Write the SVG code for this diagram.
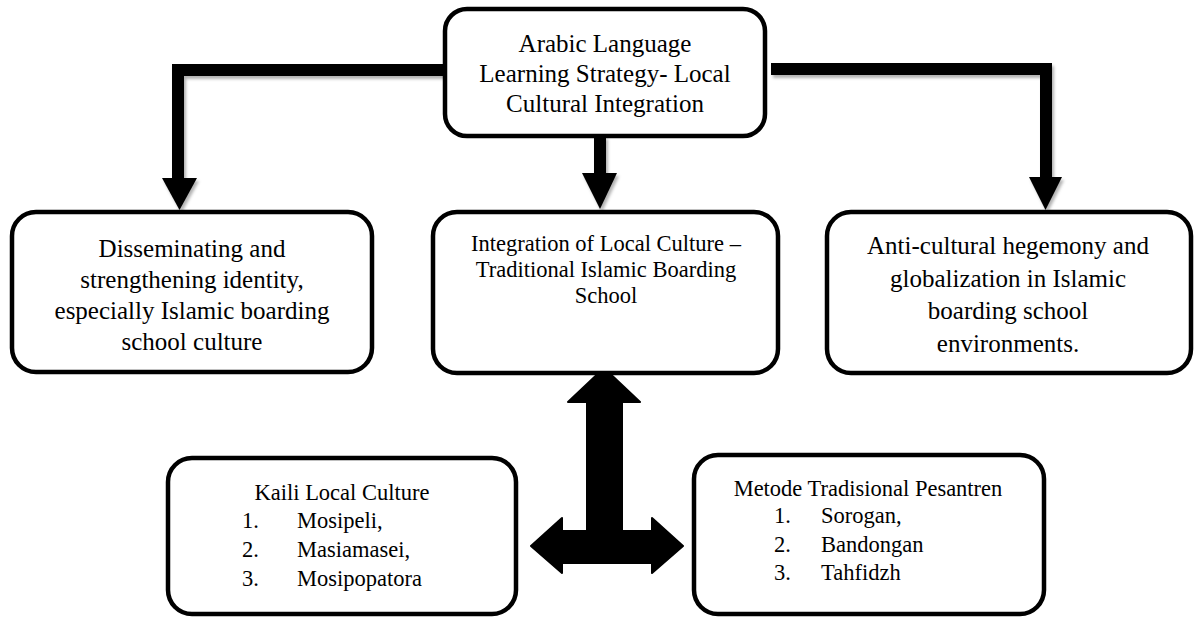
<svg xmlns="http://www.w3.org/2000/svg" width="1196" height="618" viewBox="0 0 1196 618">
<style>
.box{fill:#fff;stroke:#000;stroke-width:4.5}
.t{fill:#000}
.big{font-size:25px;text-anchor:middle}
.mid{font-size:22.5px;text-anchor:middle}
.lst{font-size:22.5px}
.bar{fill:none;stroke:#000;stroke-width:12;stroke-linejoin:miter}
.head{fill:#000}
</style>
<defs>
<filter id="sh" x="-10%" y="-10%" width="130%" height="140%">
<feDropShadow dx="2" dy="3" stdDeviation="1.8" flood-color="#000" flood-opacity="0.3"/>
</filter>
</defs>
<rect width="1196" height="618" fill="#fff"/>

<g id="connectors">
<g filter="url(#sh)">
<path class="bar" d="M447 70 H178 V179"/>
<polygon class="head" points="162,178 197,178 179.5,210"/>
<path class="bar" d="M600 136 V174"/>
<polygon class="head" points="582,173 617,173 600,209"/>
<path class="bar" d="M771 69 H1046 V178"/>
<polygon class="head" points="1029,177 1062,177 1045.5,210"/>
</g>
<polygon fill="#000" stroke="#000" stroke-width="2" stroke-linejoin="round" points="604,368 640,402 622,402 622,531 652,531 652,518 683,546 652,573 652,563 562,563 562,573 531,546 562,518 562,531 587,531 587,402 568,402"/>
</g>

<g font-family="Liberation Serif, Tinos, Times New Roman, DejaVu Serif, serif">
<g id="node-top">
<rect class="box" x="445" y="9" width="320" height="127" rx="22"/>
<text class="t big" x="605" y="52">Arabic Language</text>
<text class="t big" x="605" y="82">Learning Strategy- Local</text>
<text class="t big" x="605" y="112">Cultural Integration</text>
</g>

<g id="node-left">
<rect class="box" x="12" y="212" width="360" height="160" rx="24"/>
<text class="t big" x="192" y="257">Disseminating and</text>
<text class="t big" x="192" y="288">strengthening identity,</text>
<text class="t big" x="192" y="319">especially Islamic boarding</text>
<text class="t big" x="192" y="350">school culture</text>
</g>

<g id="node-middle">
<rect class="box" x="433" y="212" width="345" height="161" rx="24"/>
<text class="t mid" x="606" y="251">Integration of Local Culture –</text>
<text class="t mid" x="606" y="277">Traditional Islamic Boarding</text>
<text class="t mid" x="606" y="303">School</text>
</g>

<g id="node-right">
<rect class="box" x="827" y="212" width="364" height="161" rx="24"/>
<text class="t big" x="1008" y="254">Anti-cultural hegemony and</text>
<text class="t big" x="1008" y="287">globalization in Islamic</text>
<text class="t big" x="1008" y="319">boarding school</text>
<text class="t big" x="1008" y="352">environments.</text>
</g>

<g id="node-kaili">
<rect class="box" x="168" y="458" width="348" height="156" rx="24"/>
<text class="t mid" x="342" y="500">Kaili Local Culture</text>
<text class="t lst" x="242" y="528">1.</text>
<text class="t lst" x="297" y="528">Mosipeli,</text>
<text class="t lst" x="242" y="557">2.</text>
<text class="t lst" x="297" y="557">Masiamasei,</text>
<text class="t lst" x="242" y="586">3.</text>
<text class="t lst" x="297" y="586">Mosipopatora</text>
</g>

<g id="node-metode">
<rect class="box" x="694" y="455" width="350" height="159" rx="24"/>
<text class="t mid" x="868" y="496">Metode Tradisional Pesantren</text>
<text class="t lst" x="774" y="523">1.</text>
<text class="t lst" x="821" y="523">Sorogan,</text>
<text class="t lst" x="774" y="552">2.</text>
<text class="t lst" x="821" y="552">Bandongan</text>
<text class="t lst" x="774" y="580">3.</text>
<text class="t lst" x="821" y="580">Tahfidzh</text>
</g>
</g>
</svg>
